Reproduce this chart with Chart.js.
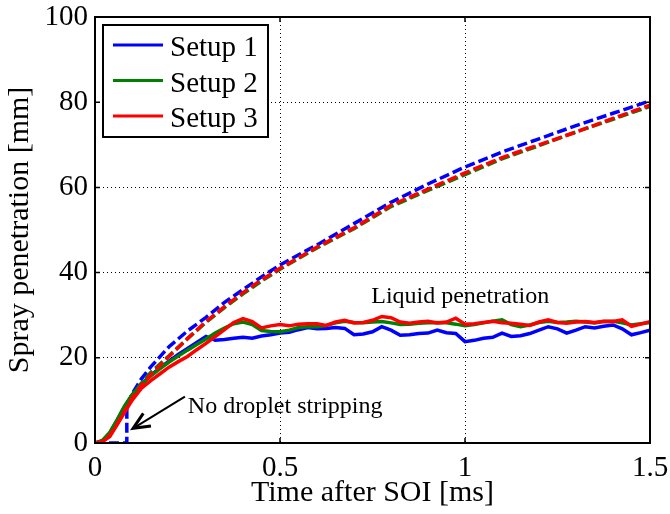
<!DOCTYPE html>
<html>
<head>
<meta charset="utf-8">
<script src="https://cdn.jsdelivr.net/npm/chart.js@4/dist/chart.umd.min.js"></script>
<style>
    html, body { margin: 0; padding: 0; background: #fff; }
</style>
</head>
<body>
<canvas id="penetrationChart" width="670" height="514"></canvas>
<script>
// time axis [ms] for the vapour (dashed) curves
const vaporTime = [0, 0.02, 0.04, 0.06, 0.08, 0.1, 0.125, 0.15, 0.2, 0.25, 0.3, 0.35, 0.4, 0.45, 0.5,
    0.6, 0.7, 0.8, 0.9, 1.0, 1.1, 1.2, 1.3, 1.4, 1.5];
const vaporSetup2 = [0, 0.5, 2.2, 5, 8, 11, 14, 16.5, 20.5, 24.5, 28.3, 31.8, 35, 38, 40.8,
    45.8, 50.3, 55.5, 59.3, 63, 66.7, 69.8, 73, 76, 79];
const vaporSetup3 = [0, 0.3, 1.8, 4.5, 7.5, 10.5, 13.5, 16, 20.3, 24.5, 28.5, 32, 35.3, 38.3, 41,
    46, 50.5, 55.8, 59.6, 63.4, 67, 70, 73, 76.2, 79.3];

// setup 1 vapour: nothing detected until ~0.086 ms (no droplet stripping)
const vaporTimeSetup1 = [0, 0.086, 0.086, 0.1, 0.125, 0.15, 0.2, 0.25, 0.3, 0.35, 0.4, 0.45, 0.5,
    0.6, 0.7, 0.8, 0.9, 1.0, 1.1, 1.2, 1.3, 1.4, 1.5];
const vaporSetup1 = [0, 0, 8.5, 11.5, 15, 17.8, 22.6, 26.3, 29.5, 33, 36, 39, 41.8,
    46.5, 51.5, 56.5, 60.8, 64.8, 68.3, 71.4, 74.5, 77.4, 80.3];

// time axis [ms] for the liquid (solid) curves
const liquidTime = [0, 0.02, 0.04, 0.06, 0.08, 0.1, 0.125, 0.15, 0.175, 0.2, 0.225, 0.25, 0.275, 0.3,
    0.325, 0.35, 0.375, 0.4, 0.425, 0.45, 0.475, 0.5, 0.525, 0.55, 0.575, 0.6, 0.625, 0.65, 0.675, 0.7,
    0.725, 0.75, 0.775, 0.8, 0.825, 0.85, 0.875, 0.9, 0.925, 0.95, 0.975, 1.0, 1.025, 1.05, 1.075, 1.1,
    1.125, 1.15, 1.175, 1.2, 1.225, 1.25, 1.275, 1.3, 1.325, 1.35, 1.375, 1.4, 1.425, 1.45, 1.475, 1.5];
const liquidSetup1 = [0, 0.5, 2.3, 5.3, 8.5, 11.2, 13.8, 15.8, 17.6, 19.2, 20.8, 22.2, 23.6, 25,
    24.1, 24.3, 24.6, 24.8, 24.6, 25.1, 25.4, 25.8, 26, 26.6, 27.1, 26.8, 26.9, 27.1, 26.9, 25.4,
    25.6, 26.1, 27.3, 26.5, 25.3, 25.4, 25.7, 25.8, 26.5, 25.9, 25.7, 23.8, 24.1, 24.6, 24.8, 25.8,
    25, 25.2, 25.7, 26.5, 27.3, 26.8, 25.8, 26.5, 27.3, 27, 27.4, 27.7, 26.8, 25.4, 25.9, 26.5];
const liquidSetup2 = [0, 0.6, 2.5, 5.5, 8.7, 11.3, 13.8, 15.7, 17.4, 19, 20.4, 21.8, 23.1, 24.4,
    25.8, 27, 28, 28.4, 27.8, 26.4, 26.2, 26.1, 26.5, 27.1, 27.3, 27.3, 27.6, 28.2, 28.6, 28.3,
    28.2, 28.4, 28.5, 28.2, 27.8, 27.9, 28.1, 28.2, 28.3, 28.2, 27.9, 27.5, 27.8, 28.2, 28.6, 28.9,
    27.8, 27.3, 27.7, 28.3, 28.6, 28.3, 28.4, 28.6, 28.4, 28.2, 28.5, 28.6, 28.2, 27.7, 28, 28.3];
const liquidSetup3 = [0, 0.3, 1.5, 4.3, 7.2, 10, 12.8, 14.6, 16.2, 17.8, 19.1, 20.3, 21.9, 23.4,
    25, 26.6, 28.3, 29.2, 28.5, 27, 27.5, 27.8, 27.5, 27.9, 28, 28, 27.6, 28.4, 28.8, 28.2,
    28.3, 28.8, 29.7, 29.4, 28.4, 28.1, 28.4, 28.6, 28.2, 28.4, 29.3, 27.9, 28, 28.3, 28.6, 28.2,
    28.1, 27.9, 27.6, 28.4, 28.9, 28.3, 28.1, 28.4, 28.5, 28.3, 28.6, 28.5, 28.9, 27.4, 27.9, 28.5];

const setupNames = ['Setup 1', 'Setup 2', 'Setup 3'];
const setupColors = ['#0000ff', '#008000', '#ff0000'];
const xTicks = [0, 0.5, 1, 1.5];
const yTicks = [0, 20, 40, 60, 80, 100];

// annotation anchors in data units
const liquidLabel = { text: 'Liquid penetration', x: 0.987, y: 32.9 };
const strippingLabel = { text: 'No droplet stripping', x: 0.251, y: 7.0 };
const arrowFrom = [0.243, 10.9];
const arrowTo = [0.103, 3.45];

const FONT = "'Liberation Serif', 'Times New Roman', serif";

function toPoints(times, values) {
    return values.map((v, i) => ({ x: times[i], y: v }));
}

function lineSet(label, color, times, values, dashed) {
    return {
        label: label,
        data: toPoints(times, values),
        borderColor: color,
        backgroundColor: color,
        borderWidth: 3.5,
        borderDash: dashed ? [10, 4] : [],
        pointRadius: 0,
        tension: 0,
        fill: false,
        showInLegend: !dashed
    };
}

// red drawn on top (first dataset is painted last)
const datasets = [
    lineSet(setupNames[2], setupColors[2], liquidTime, liquidSetup3, false),
    lineSet(setupNames[2], setupColors[2], vaporTime, vaporSetup3, true),
    lineSet(setupNames[1], setupColors[1], liquidTime, liquidSetup2, false),
    lineSet(setupNames[1], setupColors[1], vaporTime, vaporSetup2, true),
    lineSet(setupNames[0], setupColors[0], liquidTime, liquidSetup1, false),
    lineSet(setupNames[0], setupColors[0], vaporTimeSetup1, vaporSetup1, true)
];

// drop the label overhang padding so the plot box sits where the layout padding says
function noOverhang(s) {
    s.paddingTop = 0;
    s.paddingBottom = 0;
    s.paddingLeft = 0;
    s.paddingRight = 0;
}

const framePlugin = {
    id: 'framePlugin',
    afterDatasetsDraw(chart) {
        const ctx = chart.ctx;
        const area = chart.chartArea;
        const xs = chart.scales.x;
        const ys = chart.scales.y;
        ctx.save();

        // box round the axes
        ctx.strokeStyle = '#000';
        ctx.lineWidth = 2;
        ctx.strokeRect(area.left, area.top, area.right - area.left, area.bottom - area.top);

        // inward ticks like matlab
        ctx.lineWidth = 1.5;
        xTicks.forEach(v => {
            const px = xs.getPixelForValue(v);
            ctx.beginPath();
            ctx.moveTo(px, area.bottom); ctx.lineTo(px, area.bottom - 5);
            ctx.moveTo(px, area.top); ctx.lineTo(px, area.top + 5);
            ctx.stroke();
        });
        yTicks.forEach(v => {
            const py = ys.getPixelForValue(v);
            ctx.beginPath();
            ctx.moveTo(area.left, py); ctx.lineTo(area.left + 5, py);
            ctx.moveTo(area.right, py); ctx.lineTo(area.right - 5, py);
            ctx.stroke();
        });

        // annotations
        ctx.fillStyle = '#000';
        ctx.font = '24px ' + FONT;
        ctx.textBaseline = 'alphabetic';
        ctx.textAlign = 'center';
        ctx.fillText(liquidLabel.text, xs.getPixelForValue(liquidLabel.x), ys.getPixelForValue(liquidLabel.y));
        ctx.textAlign = 'left';
        ctx.fillText(strippingLabel.text, xs.getPixelForValue(strippingLabel.x), ys.getPixelForValue(strippingLabel.y));

        const x1 = xs.getPixelForValue(arrowFrom[0]), y1 = ys.getPixelForValue(arrowFrom[1]);
        const x2 = xs.getPixelForValue(arrowTo[0]), y2 = ys.getPixelForValue(arrowTo[1]);
        const ang = Math.atan2(y2 - y1, x2 - x1);
        ctx.lineWidth = 2;
        ctx.beginPath();
        ctx.moveTo(x1, y1); ctx.lineTo(x2, y2);
        ctx.stroke();
        ctx.lineWidth = 3;
        ctx.lineJoin = 'miter';
        ctx.beginPath();
        ctx.moveTo(x2 - 18 * Math.cos(ang - 0.42), y2 - 18 * Math.sin(ang - 0.42));
        ctx.lineTo(x2, y2);
        ctx.lineTo(x2 - 18 * Math.cos(ang + 0.42), y2 - 18 * Math.sin(ang + 0.42));
        ctx.stroke();

        // legend box
        const entries = chart.data.datasets.filter(d => d.showInLegend).reverse();
        const bx = area.left + 8, by = area.top + 8, bw = 165, bh = 112;
        ctx.fillStyle = '#fff';
        ctx.fillRect(bx, by, bw, bh);
        ctx.lineWidth = 2;
        ctx.strokeStyle = '#000';
        ctx.strokeRect(bx, by, bw, bh);
        ctx.font = '29px ' + FONT;
        ctx.textAlign = 'left';
        entries.forEach((d, i) => {
            const ly = by + 20 + i * 35.5;
            ctx.strokeStyle = d.borderColor;
            ctx.lineWidth = 3;
            ctx.beginPath();
            ctx.moveTo(bx + 10, ly); ctx.lineTo(bx + 60, ly);
            ctx.stroke();
            ctx.fillStyle = '#000';
            ctx.fillText(d.label, bx + 67, ly + 11);
        });
        ctx.restore();
    }
};

new Chart(document.getElementById('penetrationChart').getContext('2d'), {
    type: 'line',
    data: { datasets: datasets },
    options: {
        responsive: false,
        animation: false,
        layout: { padding: { top: 17, right: 20, left: 0, bottom: 0 } },
        scales: {
            x: {
                type: 'linear',
                min: 0,
                max: 1.5,
                afterFit: s => { s.height = 71; noOverhang(s); },
                afterBuildTicks: s => { s.ticks = xTicks.map(v => ({ value: v })); },
                ticks: {
                    color: '#000',
                    padding: 8,
                    maxRotation: 0,
                    font: { family: FONT, size: 29 },
                    callback: v => String(v)
                },
                grid: { color: '#000', lineWidth: 1, drawTicks: false },
                border: { display: false, dash: [1, 3] },
                title: {
                    display: true,
                    text: 'Time after SOI [ms]',
                    color: '#000',
                    font: { family: FONT, size: 30 },
                    padding: { top: 0, bottom: 3 }
                }
            },
            y: {
                min: 0,
                max: 100,
                afterFit: s => { s.width = 95; noOverhang(s); },
                afterBuildTicks: s => { s.ticks = yTicks.map(v => ({ value: v })); },
                ticks: {
                    color: '#000',
                    padding: 7,
                    font: { family: FONT, size: 29 },
                    callback: v => String(v)
                },
                grid: { color: '#000', lineWidth: 1, drawTicks: false },
                border: { display: false, dash: [1, 3] },
                title: {
                    display: true,
                    text: 'Spray penetration [mm]',
                    color: '#000',
                    font: { family: FONT, size: 30 },
                    padding: { top: 2, bottom: 0 }
                }
            }
        },
        plugins: {
            legend: { display: false },
            tooltip: { enabled: false }
        }
    },
    plugins: [framePlugin]
});
</script>
</body>
</html>
